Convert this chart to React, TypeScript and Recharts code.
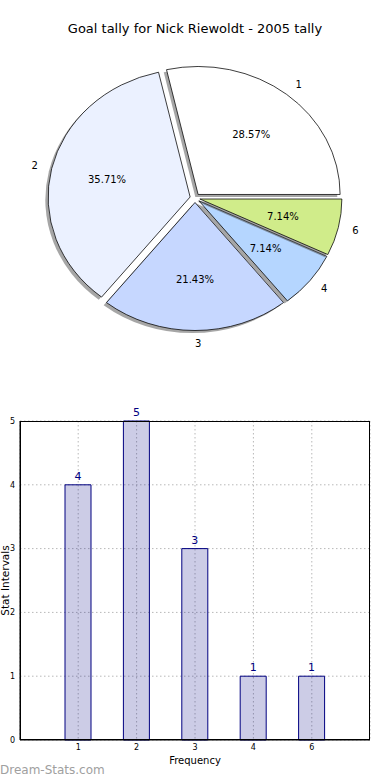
import React from 'react'
import {
  PieChart,
  Pie,
  Cell,
  Sector,
  BarChart,
  Bar,
  XAxis,
  YAxis,
  CartesianGrid,
  LabelList,
} from 'recharts'

const sliceNames = ['1', '2', '3', '4', '6']
const sliceValues = [4, 5, 3, 1, 1]
const sliceColors = ['#ffffff', '#ebf1ff', '#c6d7ff', '#b5d6ff', '#d0ec8a']

const barCategories = ['1', '2', '3', '4', '6']
const barValues = [4, 5, 3, 1, 1]
const yTicks = [0, 1, 2, 3, 4, 5]

const FONT = '"DejaVu Sans", sans-serif'
const CX = 195
const CY = 198
const R = 142
const SY = 128 / 142 // pie is drawn as an ellipse
const EXPLODE = 5
const RAD = Math.PI / 180

const total = sliceValues.reduce((a, b) => a + b, 0)
const pieData = sliceNames.map((name, i) => ({ name, value: sliceValues[i] }))
const barData = barCategories.map((name, i) => ({ name, value: barValues[i] }))

const renderSlice = (props: any) => {
  const { cx, cy, midAngle, fill, startAngle, endAngle, outerRadius } = props
  const dx = EXPLODE * Math.cos(midAngle * RAD)
  const dy = -EXPLODE * Math.sin(midAngle * RAD)
  return (
    <g transform={`translate(${cx},${cy}) scale(1,${SY}) translate(${-cx},${-cy})`}>
      <Sector
        cx={cx + dx - 2.8}
        cy={cy + dy + 2.9}
        innerRadius={0}
        outerRadius={outerRadius}
        startAngle={startAngle}
        endAngle={endAngle}
        fill='#4d4d4d'
        fillOpacity={0.5}
        stroke='none'
      />
      <Sector
        cx={cx + dx}
        cy={cy + dy}
        innerRadius={0}
        outerRadius={outerRadius}
        startAngle={startAngle}
        endAngle={endAngle}
        fill={fill}
        stroke='#000'
        strokeWidth={0.8}
      />
    </g>
  )
}

const renderLabel = (props: any) => {
  const { cx, cy, midAngle, index } = props
  const c = Math.cos(midAngle * RAD)
  const s = Math.sin(midAngle * RAD)
  const ox = EXPLODE * c
  const oy = -EXPLODE * s * SY
  const lx = cx + ox + 1.1 * R * c
  const ly = cy + oy - 1.1 * R * SY * s
  const px = cx + ox + 0.6 * R * c
  const py = cy + oy - 0.6 * R * SY * s
  const pct = ((sliceValues[index] / total) * 100).toFixed(2) + '%'
  return (
    <g key={`lbl-${index}`} fontFamily={FONT} fontSize={10} fill='#000'>
      <text x={lx} y={ly} textAnchor={c > -0.001 ? 'start' : 'end'} dominantBaseline='central'>
        {sliceNames[index]}
      </text>
      <text x={px} y={py} textAnchor='middle' dominantBaseline='central'>
        {pct}
      </text>
    </g>
  )
}

export default function App() {
  return (
    <div
      style={{
        position: 'absolute',
        left: 0,
        top: 0,
        width: 390,
        height: 780,
        background: '#fff',
        fontFamily: FONT,
      }}
    >
      <div
        style={{
          position: 'absolute',
          top: 21,
          left: 0,
          width: 390,
          textAlign: 'center',
          fontSize: 13,
          color: '#000',
        }}
      >
        Goal tally for Nick Riewoldt - 2005 tally
      </div>
      <div style={{ position: 'absolute', left: 0, top: 0 }}>
        <PieChart width={390} height={380} margin={{ top: 0, right: 0, bottom: 0, left: 0 }}>
          <Pie
            data={pieData}
            dataKey='value'
            nameKey='name'
            cx={CX}
            cy={CY}
            outerRadius={R}
            startAngle={0}
            endAngle={360}
            stroke='#000'
            labelLine={false}
            label={renderLabel}
            shape={renderSlice}
            isAnimationActive={false}
          >
            {pieData.map((entry, index) => (
              <Cell key={`cell-${index}`} fill={sliceColors[index]} />
            ))}
          </Pie>
        </PieChart>
      </div>
      <div style={{ position: 'absolute', left: 0, top: 400 }}>
        <BarChart
          width={390}
          height={380}
          data={barData}
          margin={{ top: 21, right: 20, bottom: 0, left: 0 }}
        >
          <CartesianGrid stroke='#b8b8b8' strokeDasharray='1.5 2.5' />
          <XAxis
            dataKey='name'
            height={40}
            padding={{ left: 29, right: 29 }}
            axisLine={{ stroke: '#000' }}
            tickLine={false}
            tickSize={0}
            tickMargin={4}
            tick={{ fontSize: 8, fill: '#000', fontFamily: FONT }}
            label={{
              value: 'Frequency',
              position: 'insideBottom',
              offset: 16,
              fontSize: 10,
              fill: '#000',
              fontFamily: FONT,
            }}
          />
          <YAxis
            width={20}
            domain={[0, 5]}
            ticks={yTicks}
            interval={0}
            axisLine={{ stroke: '#000' }}
            tickLine={false}
            tickSize={0}
            tickMargin={5}
            tick={{ fontSize: 8, fill: '#000', fontFamily: FONT }}
            label={{
              value: 'Stat Intervals',
              angle: -90,
              position: 'center',
              dx: -5,
              fontSize: 10.5,
              fill: '#000',
              fontFamily: FONT,
            }}
          />
          <Bar
            dataKey='value'
            barSize={26}
            fill='#000080'
            fillOpacity={0.2}
            stroke='#000080'
            strokeWidth={1}
            isAnimationActive={false}
          >
            <LabelList
              dataKey='value'
              position='top'
              offset={5}
              fill='#000080'
              fontSize={11}
              fontFamily={FONT}
            />
          </Bar>
        </BarChart>
        {/* plot frame */}
        <div
          style={{
            position: 'absolute',
            left: 20,
            top: 21,
            width: 350,
            height: 319,
            boxSizing: 'border-box',
            border: '1px solid #000',
            pointerEvents: 'none',
          }}
        />
      </div>
      <div
        style={{
          position: 'absolute',
          left: 0,
          top: 763,
          fontSize: 12,
          color: '#a0a0a0',
        }}
      >
        Dream-Stats.com
      </div>
    </div>
  )
}
